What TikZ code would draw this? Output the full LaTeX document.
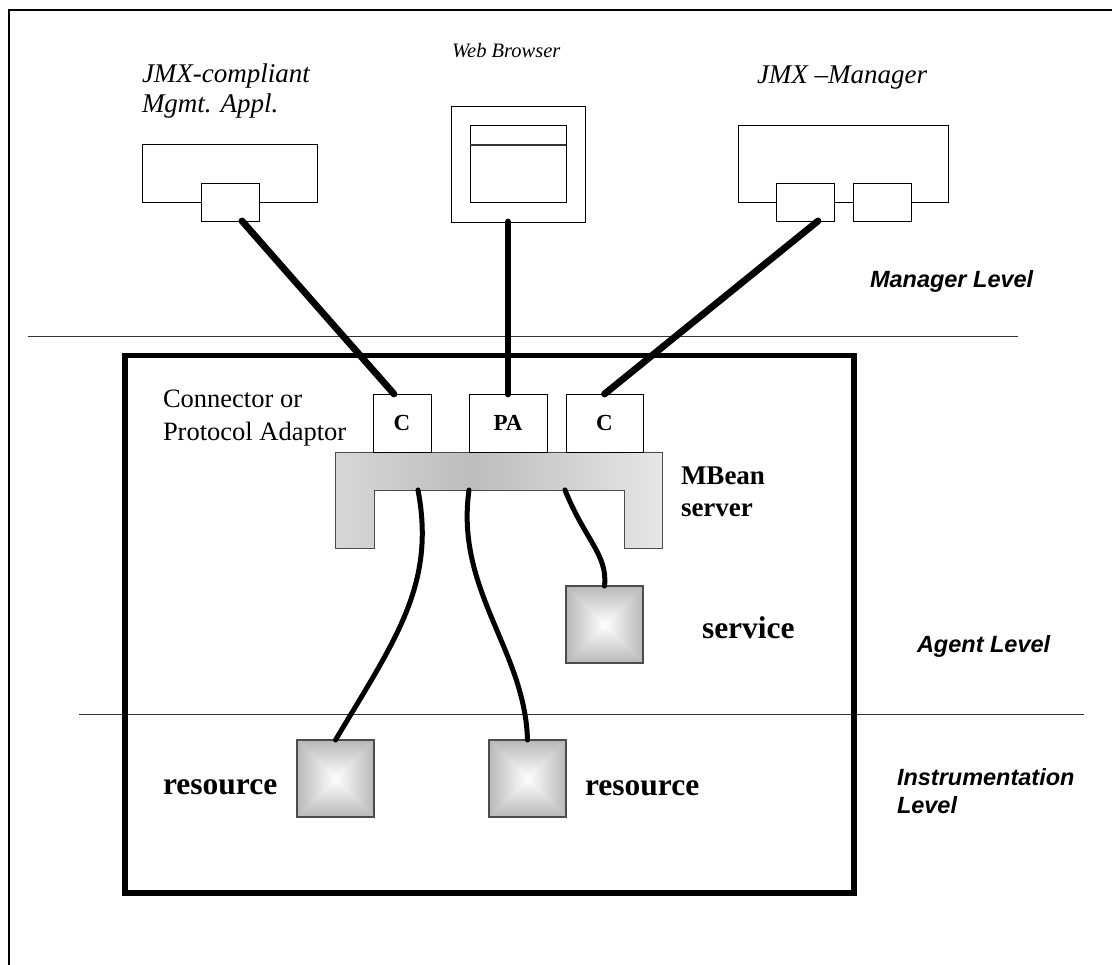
\documentclass[tikz,border=0pt]{standalone}
\usepackage{fontspec}
\setmainfont{Liberation Serif}
\newfontfamily\levelfont{Liberation Sans}
\usetikzlibrary{calc}

% grey tube-like shading of the MBean server bar
\pgfdeclarehorizontalshading{mbeanshade}{100bp}{%
  color(0bp)=(black!28); color(10bp)=(black!8); color(46bp)=(black!26);
  color(78bp)=(black!8); color(100bp)=(black!32)}

% square "from centre" gradient: grey rim fading to a white middle
\pgfdeclarefunctionalshading{sqglow}{\pgfpoint{-50bp}{-50bp}}{\pgfpoint{50bp}{50bp}}{}{%
  abs exch abs 2 copy lt {exch} if pop
  25 div dup 1 gt {pop 1} if
  0.28 mul 1 exch sub dup dup}

\tikzset{
  thinbox/.style={draw=black, line width=0.9pt, fill=white, inner sep=0pt, outer sep=0pt},
  port/.style={thinbox, minimum width=58pt, minimum height=38pt},
  adaptor/.style={thinbox, minimum height=58pt, font=\fontsize{23}{26}\selectfont\bfseries},
  link/.style={line width=6.8pt, line cap=round},
  wire/.style={line width=5pt, line cap=round},
  levelsep/.style={line width=1pt, black!80},
  lbl/.style={inner sep=0pt, outer sep=0pt, anchor=base west},
  apptext/.style={lbl, font=\fontsize{27}{30}\selectfont\itshape},
  bodytext/.style={lbl, font=\fontsize{26.5}{30}\selectfont},
  boldtext/.style={lbl, font=\fontsize{27}{30}\selectfont\bfseries},
  bigbold/.style={lbl, font=\fontsize{31.5}{36}\selectfont\bfseries},
  leveltext/.style={lbl, font=\levelfont\fontsize{23.5}{28}\selectfont\bfseries\itshape},
  mbox/.style={draw=black!70, line width=1.3pt, minimum size=77pt, inner sep=0pt, outer sep=0pt,
    shading=sqglow},
}

\begin{document}
\begin{tikzpicture}[x=1pt, y=-1pt]
\useasboundingbox (0,0) rectangle (1112,965);

% page frame (top and left edges)
\draw[line width=1.2pt] (9,965) -- (9,10) -- (1112,10);

% level separators
\draw[levelsep] (28,337) -- (1018,337);
\draw[levelsep] (79,714) -- (1084,714);

% agent
\node[draw, line width=5.5pt, minimum width=729pt, minimum height=537.5pt,
      inner sep=0pt, outer sep=0pt] (agent) at (489.5,624.25) {};

% ---- manager level ----
\node[thinbox, minimum width=175pt, minimum height=58pt] (jmxapp) at (229.5,173) {};
\node[port] (jmxport) at (230,202) {};

\node[thinbox, minimum width=134pt, minimum height=116pt] (browser) at (518,164) {};
\node[thinbox, minimum width=96pt, minimum height=77pt] (page) at (518,163.5) {};
\draw[line width=1.2pt, black!80] ([yshift=-20pt]page.north west) -- ([yshift=-20pt]page.north east);

\node[thinbox, minimum width=210pt, minimum height=77pt] (mgr) at (843,163.5) {};
\node[port] (mport) at (805.5,202) {};
\node[port] (mport2) at (882.5,202) {};

\node[apptext] (tjmx1) at (142,83) {JMX-compliant};
\node[apptext] (tjmx2) at (142,113) {Mgmt. Appl.};
\node[lbl, font=\fontsize{20.5}{24}\selectfont\itshape] (tweb) at (452,58) {Web Browser};
\node[apptext] (tmgr) at (757,84) {JMX \textendash Manager};
\node[leveltext] (lmanager) at (870,288) {Manager Level};

% ---- agent level ----
\shadedraw[shading=mbeanshade, draw=black!70, line width=0.9pt]
  (335,452) -- (662,452) -- (662,548) -- (624,548) -- (624,490)
  -- (374,490) -- (374,548) -- (335,548) -- cycle;
\node[inner sep=0pt, outer sep=0pt, minimum width=327pt, minimum height=38pt] (mbean) at (498.5,471) {};

\node[adaptor, minimum width=58pt] (c1) at (402,423) {C};
\node[adaptor, minimum width=78pt] (pa) at (508,423) {PA};
\node[adaptor, minimum width=77pt] (c2) at (604.5,423) {C};

\node[bodytext] (tconn1) at (163,408) {Connector or};
\node[bodytext] (tconn2) at (163,441) {Protocol Adaptor};
\node[boldtext] (tmbean1) at (681,485) {MBean};
\node[boldtext] (tmbean2) at (681,517) {server};

\node[mbox, shade] (service) at (604.5,624.5) {};
\node[bigbold] (tservice) at (702,638) {service};
\node[leveltext] (lagent) at (917,652) {Agent Level};

% ---- instrumentation level ----
\node[mbox, shade] (res1) at (335.5,778.5) {};
\node[mbox, shade] (res2) at (527.5,778.5) {};
\node[bigbold] (tres1) at (163,794) {resource};
\node[bigbold] (tres2) at (585,795) {resource};
\node[leveltext] (linstr1) at (897,785) {Instrumentation};
\node[leveltext] (linstr2) at (897,813) {Level};

% ---- connections ----
\draw[link] ([xshift=12pt]jmxport.south) -- ([xshift=-8pt]c1.north);
\draw[link] ([xshift=-10pt]browser.south) -- (pa.north);
\draw[link] ([xshift=12.5pt]mport.south) -- (c2.north);

\draw[wire] ([xshift=-80.5pt]mbean.south) .. controls (436,585) and (395,640) .. (res1.north);
\draw[wire] ([xshift=-29.5pt]mbean.south) .. controls (455,590) and (525,650) .. (res2.north);
\draw[wire] ([xshift=66.5pt]mbean.south) .. controls (585,540) and (608,555) .. (service.north);
\end{tikzpicture}
\end{document}
